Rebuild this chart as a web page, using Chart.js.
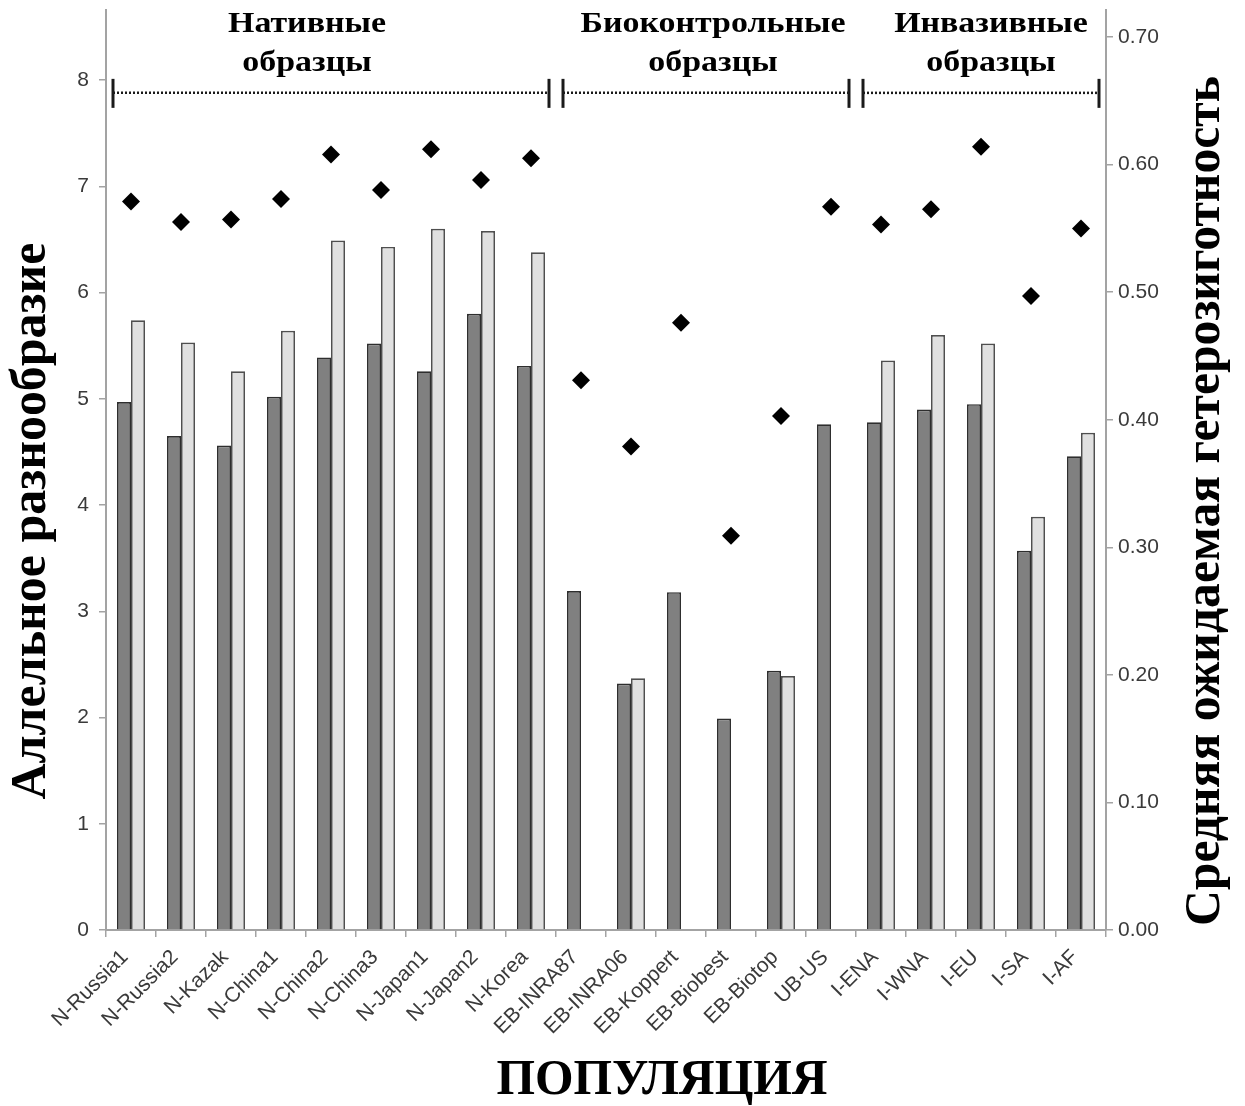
<!DOCTYPE html>
<html>
<head>
<meta charset="utf-8">
<title>Аллельное разнообразие и гетерозиготность</title>
<script src="https://cdn.jsdelivr.net/npm/chart.js@4.4.1/dist/chart.umd.min.js"></script>
<style>
  html, body { margin: 0; padding: 0; background: #ffffff; }
  #wrap { width: 1245px; height: 1106px; position: relative; }
</style>
</head>
<body>
<div id="wrap"><canvas id="chart"></canvas></div>
<script>
// Populations along the x axis
const populations = [
  'N-Russia1', 'N-Russia2', 'N-Kazak', 'N-China1', 'N-China2', 'N-China3',
  'N-Japan1', 'N-Japan2', 'N-Korea', 'EB-INRA87', 'EB-INRA06', 'EB-Koppert',
  'EB-Biobest', 'EB-Biotop', 'UB-US', 'I-ENA', 'I-WNA', 'I-EU', 'I-SA', 'I-AF'
];

// Allelic richness, dark bars (left axis)
const allelicDark = [
  4.97, 4.65, 4.56, 5.02, 5.39, 5.52, 5.26, 5.80, 5.31,
  3.19, 2.32, 3.18, 1.99, 2.44, 4.76,
  4.78, 4.90, 4.95, 3.57, 4.46
];

// Allelic richness, light bars (left axis); missing where not measured
const allelicLight = [
  5.74, 5.53, 5.26, 5.64, 6.49, 6.43, 6.60, 6.58, 6.38,
  null, 2.37, null, null, 2.39, null,
  5.36, 5.60, 5.52, 3.89, 4.68
];

// Mean expected heterozygosity, diamonds (right axis)
const heterozygosity = [
  0.571, 0.555, 0.557, 0.573, 0.608, 0.580, 0.612, 0.588, 0.605,
  0.431, 0.379, 0.476, 0.309, 0.403, 0.567,
  0.553, 0.565, 0.614, 0.497, 0.550
];

// Tick values of both value axes
const leftTicks = [0, 1, 2, 3, 4, 5, 6, 7, 8];
const rightTicks = [0.0, 0.1, 0.2, 0.3, 0.4, 0.5, 0.6, 0.7];

// Population groups marked above the plot
const groupTitles = [['Нативные', 'образцы'], ['Биоконтрольные', 'образцы'], ['Инвазивные', 'образцы']];
const groupFirst = [0, 9, 15];
const groupLast = [8, 14, 19];

const axisTitleLeft = 'Аллельное разнообразие';
const axisTitleRight = 'Средняя ожидаемая гетерозиготность';
const axisTitleBottom = 'ПОПУЛЯЦИЯ';

const SERIF = '"Liberation Serif", "Times New Roman", serif';
const SANS = '"Liberation Sans", Arial, sans-serif';
const AXIS_GREY = '#a3a3a3';
const TICK_TEXT = '#3a3a3a';

// Bold serif text, stretched along its own direction to a given length
function fittedText(ctx, text, cx, cy, size, length, angle) {
  ctx.save();
  ctx.font = 'bold ' + size + 'px ' + SERIF;
  const w = ctx.measureText(text).width;
  ctx.translate(cx, cy);
  ctx.rotate(angle);
  ctx.scale(length / w, 1);
  ctx.textAlign = 'center';
  ctx.textBaseline = 'middle';
  ctx.fillStyle = '#000';
  ctx.fillText(text, 0, 0);
  ctx.restore();
}

// Bold serif text with a fixed horizontal stretch
function wideText(ctx, text, cx, baseline, size, sx) {
  ctx.save();
  ctx.font = 'bold ' + size + 'px ' + SERIF;
  ctx.translate(cx, baseline);
  ctx.scale(sx, 1);
  ctx.textAlign = 'center';
  ctx.textBaseline = 'alphabetic';
  ctx.fillStyle = '#000';
  ctx.fillText(text, 0, 0);
  ctx.restore();
}

const groupHeaders = {
  id: 'groupHeaders',
  afterDatasetsDraw(chart) {
    const { ctx, scales: { x, y } } = chart;
    const half = (x.getPixelForValue(1) - x.getPixelForValue(0)) / 2;
    const lineY = y.getPixelForValue(7.88);
    const titleShift = [-24, 7, 10];
    groupFirst.forEach((first, i) => {
      const x0 = x.getPixelForValue(first) - half + 7;
      const x1 = x.getPixelForValue(groupLast[i]) + half - 7;
      ctx.save();
      ctx.strokeStyle = '#1a1a1a';
      ctx.lineWidth = 2.5;
      ctx.setLineDash([2, 2]);
      ctx.beginPath();
      ctx.moveTo(x0, lineY);
      ctx.lineTo(x1, lineY);
      ctx.stroke();
      ctx.setLineDash([]);
      ctx.lineWidth = 3;
      [x0, x1].forEach(px => {
        ctx.beginPath();
        ctx.moveTo(px, lineY - 14);
        ctx.lineTo(px, lineY + 15);
        ctx.stroke();
      });
      ctx.restore();
      const cx = (x0 + x1) / 2 + titleShift[i];
      wideText(ctx, groupTitles[i][0], cx, 32, 30, 1.13);
      wideText(ctx, groupTitles[i][1], cx, 71, 30, 1.13);
    });
  },
  afterDraw(chart) {
    const ctx = chart.ctx;
    fittedText(ctx, axisTitleLeft, 32, 521, 50, 557, -Math.PI / 2);
    fittedText(ctx, axisTitleRight, 1206, 501, 50, 850, -Math.PI / 2);
    fittedText(ctx, axisTitleBottom, 662, 1081, 50, 331, 0);
  }
};

new Chart(document.getElementById('chart'), {
  type: 'bar',
  data: {
    labels: populations,
    datasets: [
      {
        type: 'line',
        label: 'He',
        data: heterozygosity,
        yAxisID: 'y1',
        showLine: false,
        pointStyle: 'rectRot',
        pointRadius: 9,
        pointHoverRadius: 9,
        pointBackgroundColor: '#000',
        pointBorderColor: '#000',
        pointBorderWidth: 0,
        order: 0
      },
      {
        label: 'A',
        data: allelicDark,
        yAxisID: 'y',
        backgroundColor: '#808080',
        borderColor: '#2e2e2e',
        borderWidth: 1.7,
        categoryPercentage: 0.56,
        barPercentage: 1,
        order: 1
      },
      {
        label: 'B',
        data: allelicLight,
        yAxisID: 'y',
        backgroundColor: '#e0e0e0',
        borderColor: '#4f4f4f',
        borderWidth: 1.7,
        categoryPercentage: 0.56,
        barPercentage: 1,
        order: 1
      }
    ]
  },
  options: {
    responsive: true,
    maintainAspectRatio: false,
    animation: false,
    layout: { padding: { top: 10, left: 0, right: 0, bottom: 0 } },
    plugins: { legend: { display: false }, tooltip: { enabled: false } },
    scales: {
      x: {
        offset: true,
        grid: { offset: true, drawOnChartArea: false, drawTicks: true, tickLength: 7, color: AXIS_GREY, lineWidth: 1.5 },
        border: { display: true, color: AXIS_GREY, width: 2 },
        ticks: {
          autoSkip: false, minRotation: 45, maxRotation: 45, padding: 8, labelOffset: -6,
          color: TICK_TEXT, font: { family: SANS, size: 21 }
        },
        afterFit(s) { s.height = 176; s.paddingLeft = 0; s.paddingRight = 0; }
      },
      y: {
        position: 'left',
        min: 0,
        max: 8.66,
        afterBuildTicks(s) { s.ticks = leftTicks.map(v => ({ value: v })); },
        grid: { drawOnChartArea: false, drawTicks: true, tickLength: 7, color: AXIS_GREY, lineWidth: 1.5 },
        border: { display: true, color: AXIS_GREY, width: 2 },
        ticks: { padding: 10, color: TICK_TEXT, font: { family: SANS, size: 21 } },
        afterFit(s) { s.width = 106; s.paddingTop = 0; s.paddingBottom = 0; }
      },
      y1: {
        position: 'right',
        min: 0,
        max: 0.7212,
        afterBuildTicks(s) { s.ticks = rightTicks.map(v => ({ value: v })); },
        grid: { drawOnChartArea: false, drawTicks: true, tickLength: 7, color: AXIS_GREY, lineWidth: 1.5 },
        border: { display: true, color: AXIS_GREY, width: 2 },
        ticks: {
          padding: 5, color: TICK_TEXT, font: { family: SANS, size: 21 },
          callback: v => Number(v).toFixed(2)
        },
        afterFit(s) { s.width = 139; s.paddingTop = 0; s.paddingBottom = 0; }
      }
    }
  },
  plugins: [groupHeaders]
});
</script>
</body>
</html>
